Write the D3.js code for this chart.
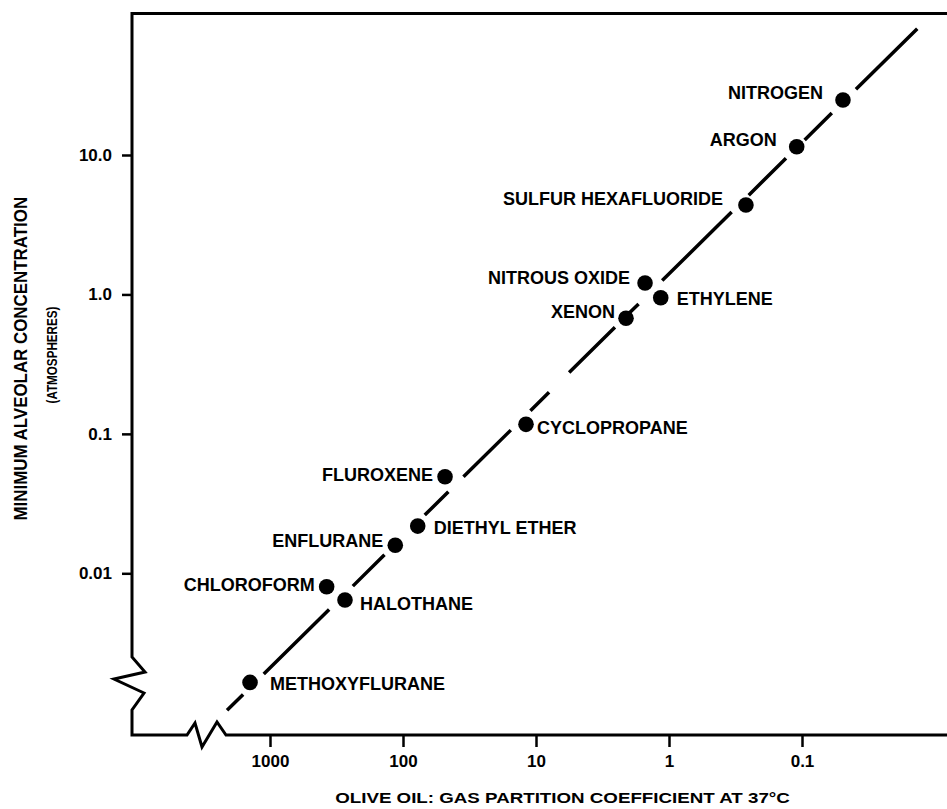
<!DOCTYPE html>
<html>
<head>
<meta charset="utf-8">
<script src="https://cdn.jsdelivr.net/npm/d3@7"></script>
<style>
  html, body { margin: 0; padding: 0; background: #fff; }
  svg { display: block; }
  text { font-family: "Liberation Sans", Arial, Helvetica, sans-serif; font-weight: bold; fill: #000; }
</style>
</head>
<body>
<div id="chart"></div>
<script>
// ---- data ----
const gases = ["NITROGEN", "ARGON", "SULFUR HEXAFLUORIDE", "NITROUS OXIDE", "ETHYLENE", "XENON",
  "CYCLOPROPANE", "FLUROXENE", "DIETHYL ETHER", "ENFLURANE", "CHLOROFORM", "HALOTHANE", "METHOXYFLURANE"];
const oilGasCoeff = [0.0492, 0.1096, 0.264, 1.514, 1.154, 2.105, 11.89, 48.3, 77.5, 114.3, 375, 273, 1413];
const macAtm = [24.8, 11.47, 4.38, 1.207, 0.947, 0.674, 0.117, 0.0492, 0.0218, 0.0159, 0.0080, 0.00643, 0.00165];
const xTicks = [1000, 100, 10, 1, 0.1];
const xTickLabels = ["1000", "100", "10", "1", "0.1"];
const yTicks = [0.01, 0.1, 1, 10];
const yTickLabels = ["0.01", "0.1", "1.0", "10.0"];
const fitLineCoeff = [2104, 0.01342];
const fitLineMac = [0.00104, 81.5];
const xTitle = "OLIVE OIL: GAS PARTITION COEFFICIENT AT 37°C";
const yTitle1 = "MINIMUM ALVEOLAR CONCENTRATION";
const yTitle2 = "(ATMOSPHERES)";

// ---- layout / style ----
const W = 947, H = 809;
const frameLeft = 132, frameTop = 13.5, frameBottom = 735, frameRight = 947;
const labelPlacement = {
  "NITROGEN": { anchor: "end", dx: -20, dy: -7 },
  "ARGON": { anchor: "end", dx: -20, dy: -7 },
  "SULFUR HEXAFLUORIDE": { anchor: "end", dx: -23, dy: -6 },
  "NITROUS OXIDE": { anchor: "end", dx: -15, dy: -5.5 },
  "ETHYLENE": { anchor: "start", dx: 16, dy: 1 },
  "XENON": { anchor: "end", dx: -11, dy: -7 },
  "CYCLOPROPANE": { anchor: "start", dx: 11, dy: 3 },
  "FLUROXENE": { anchor: "end", dx: -12, dy: -2 },
  "DIETHYL ETHER": { anchor: "start", dx: 16, dy: 1 },
  "ENFLURANE": { anchor: "end", dx: -12, dy: -5 },
  "CHLOROFORM": { anchor: "end", dx: -12, dy: -2 },
  "HALOTHANE": { anchor: "start", dx: 15, dy: 3 },
  "METHOXYFLURANE": { anchor: "start", dx: 20, dy: 1 }
};
// dash pattern of the trend line (px along the line)
const dashPattern = [22.6, 29, 91.9, 33.3, 44.5, 56.6, 33.2, 21.2, 66.5, 27.6, 26.2, 28.2, 64.4,
  20.5, 12.7, 33.2, 97.6, 24, 52.4, 26.2, 38.2, 33.9, 86.2, 200];

const svg = d3.select("#chart").append("svg").attr("width", W).attr("height", H);

const x = d3.scaleLog().domain([1000, 0.1]).range([270, 802]);
const y = d3.scaleLog().domain([0.01, 10]).range([573.3, 155]);

// frame with axis breaks
const frame = d3.path();
frame.moveTo(frameRight, frameTop);
frame.lineTo(frameLeft, frameTop);
frame.lineTo(frameLeft, 657);
frame.lineTo(frameLeft + 13, 672);
frame.lineTo(frameLeft - 18, 679);
frame.lineTo(frameLeft + 12, 693);
frame.lineTo(frameLeft, 710);
frame.lineTo(frameLeft, frameBottom);
frame.lineTo(187, frameBottom);
frame.lineTo(195, frameBottom - 12);
frame.lineTo(202, frameBottom + 12);
frame.lineTo(217, frameBottom - 13);
frame.lineTo(226, frameBottom);
frame.lineTo(frameRight, frameBottom);
svg.append("path").attr("d", frame.toString())
  .attr("fill", "none").attr("stroke", "#000").attr("stroke-width", 3)
  .attr("stroke-linejoin", "miter");

// axes
const xAxis = d3.axisBottom(x).tickValues(xTicks)
  .tickFormat((d, i) => xTickLabels[i]).tickSize(12).tickPadding(8);
const gx = svg.append("g").attr("transform", `translate(0,${frameBottom})`).call(xAxis);
gx.select(".domain").remove();
gx.selectAll(".tick line").attr("stroke", "#000").attr("stroke-width", 2.5);
gx.selectAll(".tick text").attr("font-size", 17).attr("font-family", null).attr("fill", "#000");

const yAxis = d3.axisLeft(y).tickValues(yTicks)
  .tickFormat((d, i) => yTickLabels[i]).tickSize(10).tickPadding(10);
const gy = svg.append("g").attr("transform", `translate(${frameLeft},0)`).call(yAxis);
gy.select(".domain").remove();
gy.selectAll(".tick line").attr("stroke", "#000").attr("stroke-width", 2.5);
gy.selectAll(".tick text").attr("font-size", 17).attr("font-family", null).attr("fill", "#000");

// axis titles, stretched along their direction to match the reference widths
function stretchedTitle(txt, size, baseTransform, targetLen) {
  const t = svg.append("text").attr("text-anchor", "middle").attr("font-size", size).text(txt);
  const len = t.node().getComputedTextLength();
  t.attr("transform", `${baseTransform} scale(${targetLen / len},1)`);
  return t;
}
stretchedTitle(xTitle, 14, "translate(562.5,803)", 455);
stretchedTitle(yTitle1, 18, "translate(26.5,358.7) rotate(-90)", 324);
stretchedTitle(yTitle2, 14, "translate(56.5,355) rotate(-90)", 97);

// trend line
svg.append("line")
  .attr("x1", x(fitLineCoeff[0])).attr("y1", y(fitLineMac[0]))
  .attr("x2", x(fitLineCoeff[1])).attr("y2", y(fitLineMac[1]))
  .attr("stroke", "#000").attr("stroke-width", 3.5)
  .attr("stroke-dasharray", dashPattern.join(" "));

// points
const pts = gases.map((g, i) => ({ name: g, cx: oilGasCoeff[i], my: macAtm[i] }));
svg.append("g").selectAll("circle").data(pts).join("circle")
  .attr("cx", d => x(d.cx)).attr("cy", d => y(d.my)).attr("r", 7.8).attr("fill", "#000");

svg.append("g").selectAll("text").data(pts).join("text")
  .attr("x", d => x(d.cx) + labelPlacement[d.name].dx)
  .attr("y", d => y(d.my) + labelPlacement[d.name].dy)
  .attr("dy", "0.36em")
  .attr("text-anchor", d => labelPlacement[d.name].anchor)
  .attr("font-size", 18)
  .text(d => d.name);
</script>
</body>
</html>
